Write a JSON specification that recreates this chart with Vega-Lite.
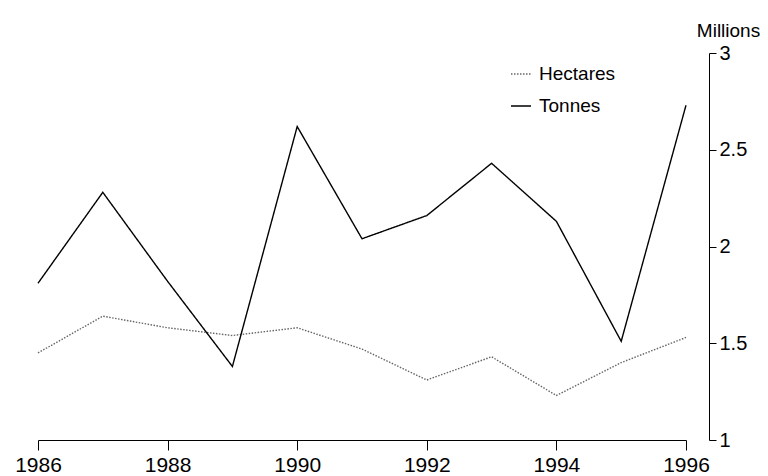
{
  "$schema": "https://vega.github.io/schema/vega-lite/v6.json",
  "width": 648,
  "height": 387,
  "autosize": {"type": "none"},
  "padding": {"left": 38, "top": 53, "right": 82, "bottom": 36},
  "background": "white",
  "config": {
    "view": {"stroke": null},
    "font": "Liberation Sans",
    "axis": {"grid": false, "domainColor": "black", "tickColor": "black", "labelColor": "black", "titleColor": "black"}
  },
  "data": {
    "values": [
      {"year": 1986, "series": "Hectares", "value": 1.45},
      {"year": 1987, "series": "Hectares", "value": 1.64},
      {"year": 1988, "series": "Hectares", "value": 1.58},
      {"year": 1989, "series": "Hectares", "value": 1.54},
      {"year": 1990, "series": "Hectares", "value": 1.58},
      {"year": 1991, "series": "Hectares", "value": 1.47},
      {"year": 1992, "series": "Hectares", "value": 1.31},
      {"year": 1993, "series": "Hectares", "value": 1.43},
      {"year": 1994, "series": "Hectares", "value": 1.23},
      {"year": 1995, "series": "Hectares", "value": 1.40},
      {"year": 1996, "series": "Hectares", "value": 1.53},
      {"year": 1986, "series": "Tonnes", "value": 1.81},
      {"year": 1987, "series": "Tonnes", "value": 2.28},
      {"year": 1988, "series": "Tonnes", "value": 1.82},
      {"year": 1989, "series": "Tonnes", "value": 1.38},
      {"year": 1990, "series": "Tonnes", "value": 2.62},
      {"year": 1991, "series": "Tonnes", "value": 2.04},
      {"year": 1992, "series": "Tonnes", "value": 2.16},
      {"year": 1993, "series": "Tonnes", "value": 2.43},
      {"year": 1994, "series": "Tonnes", "value": 2.13},
      {"year": 1995, "series": "Tonnes", "value": 1.51},
      {"year": 1996, "series": "Tonnes", "value": 2.73}
    ]
  },
  "mark": {"type": "line", "strokeWidth": 1.4},
  "encoding": {
    "x": {
      "field": "year", "type": "quantitative",
      "scale": {"domain": [1986, 1996], "nice": false, "zero": false},
      "axis": {
        "title": null, "values": [1986, 1988, 1990, 1992, 1994, 1996], "format": "d",
        "tickSize": 10, "labelFontSize": 21, "labelPadding": 4, "labelFlush": false
      }
    },
    "y": {
      "field": "value", "type": "quantitative",
      "scale": {"domain": [1, 3], "nice": false, "zero": false},
      "axis": {
        "orient": "right", "offset": 23, "values": [1, 1.5, 2, 2.5, 3], "format": "~g",
        "tickSize": 7, "labelFontSize": 20, "labelPadding": 3,
        "title": "Millions", "titleAngle": 0, "titleX": 19, "titleY": -23,
        "titleAlign": "center", "titleBaseline": "middle", "titleFontSize": 19, "titleFontWeight": "normal"
      }
    },
    "color": {
      "field": "series", "type": "nominal",
      "scale": {"domain": ["Hectares", "Tonnes"], "range": ["#666666", "#000000"]},
      "legend": {
        "title": null, "orient": "none", "legendX": 472, "legendY": 10,
        "labelFontSize": 19, "symbolSize": 400, "symbolStrokeWidth": 1.4,
        "rowPadding": 11, "labelOffset": 7, "labelColor": "black"
      }
    },
    "strokeDash": {
      "field": "series", "type": "nominal",
      "scale": {"domain": ["Hectares", "Tonnes"], "range": [[1.5, 1.5], [1, 0]]},
      "legend": null
    }
  }
}
